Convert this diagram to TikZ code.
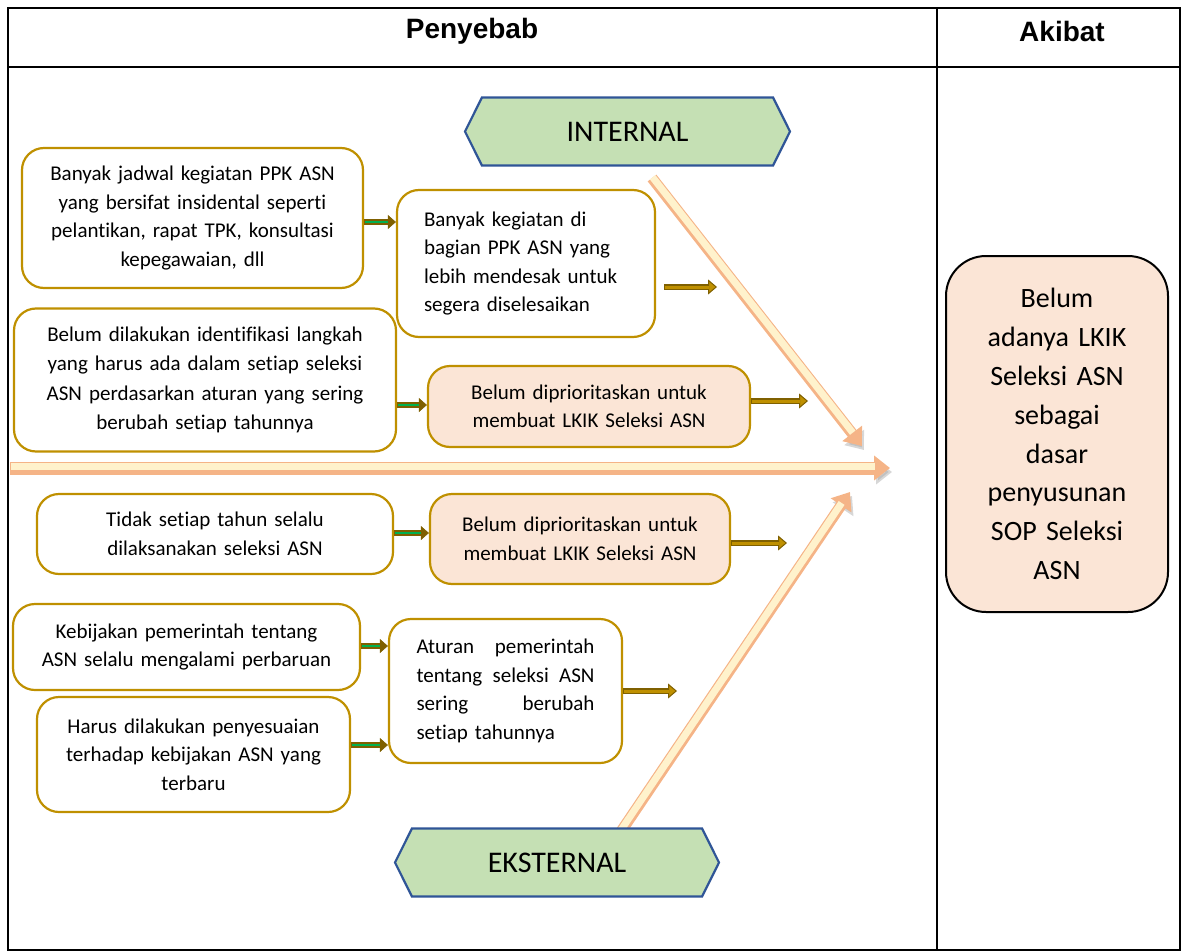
\documentclass[tikz,border=0pt]{standalone}
\usepackage{fontspec}
\setmainfont{Carlito}[Ligatures=CommonOff]
\newfontfamily\headfont{Liberation Sans}
\usetikzlibrary{positioning,arrows.meta,shapes.symbols}

\definecolor{goldline}{RGB}{191,144,0}
\definecolor{peach}{RGB}{251,229,214}
\definecolor{hexfill}{RGB}{197,224,180}
\definecolor{hexline}{RGB}{47,85,151}
\definecolor{darkbrown}{RGB}{127,96,0}
\definecolor{goldfill}{RGB}{191,144,0}
\definecolor{leafgreen}{RGB}{0,176,80}
\definecolor{spinedark}{RGB}{245,180,135}
\definecolor{spinelight}{RGB}{255,242,204}

\tikzset{
  cause/.style={draw=goldline,line width=2.2pt,rounded corners=22pt,fill=white,
    font=\fontsize{21}{28.5}\selectfont,align=center,inner sep=0pt},
  causepeach/.style={cause,fill=peach},
  side/.style={draw=hexline,fill=hexfill,line width=2.2pt,shape=signal,
    signal to=west and east,signal pointer angle=127,minimum width=325pt,
    minimum height=68pt,inner sep=0pt,font=\fontsize{30}{36}\selectfont},
  feedgreen/.style={line width=6pt,draw=darkbrown,
    -{Triangle[length=8pt,width=14pt,line width=0.5pt]},
    postaction={draw=leafgreen,line width=2pt,-,shorten >=8pt,shorten <=1pt}},
  feedgold/.style={line width=6pt,draw=darkbrown,
    -{Triangle[length=9pt,width=15pt,line width=1pt,fill=goldfill]},
    postaction={draw=goldfill,line width=3pt,-,shorten >=8pt,shorten <=1pt}},
  spine/.style={line width=13pt,draw=spinedark,
    -{Triangle[length=16pt,width=24pt]},
    preaction={draw=black!35,opacity=.45,transform canvas={xshift=2pt,yshift=-4pt}},
    postaction={draw=spinelight,line width=7pt,-,shorten >=15pt,shorten <=1pt,
      transform canvas={yshift=1.5pt}}}
}

\begin{document}
\begin{tikzpicture}[x=1pt,y=-1pt]
\useasboundingbox (0,0) rectangle (1182,952);

% table
\draw[line width=2pt] (8,8) rectangle (1180,950) (8,67) -- (1180,67) (937,8) -- (937,950);
\node[font=\headfont\bfseries\fontsize{28}{32}\selectfont] (head1) at (472,31) {Penyebab};
\node[font=\headfont\bfseries\fontsize{28}{32}\selectfont] (head2) at (1062,31) {Akibat};

% spines
\coordinate (m1) at (10,468);
\coordinate (m2) at (890,468);
\coordinate (u1) at (652,178);
\coordinate (u2) at (862,446);
\coordinate (l1) at (620,833);
\coordinate (l2) at (850,492);
\draw[spine] (m1) -- (m2);
\draw[spine,line width=11pt] (u1) -- (u2);
\draw[spine,line width=11pt] (l1) -- (l2);

% internal and external
\node[side] (internal) at (627.5,131.5) {INTERNAL};
\node[side,minimum width=324pt] (external) at (557,862.5) {EKSTERNAL};

% causes, internal side
\node[cause,minimum width=341pt,minimum height=140pt,text width=320pt] (A1) at (192.5,218)
  {Banyak jadwal kegiatan PPK ASN\\ yang bersifat insidental seperti\\ pelantikan, rapat TPK, konsultasi\\ kepegawaian, dll};
\node[cause,minimum width=258pt,minimum height=147pt,text width=204pt,align=left] (A2) at (526,263.5)
  {Banyak kegiatan di\\ bagian PPK ASN yang\\ lebih mendesak untuk\\ segera diselesaikan};
\node[cause,minimum width=382pt,minimum height=143pt,text width=360pt,
  font=\fontsize{21}{29.5}\selectfont] (A3) at (205,380)
  {Belum dilakukan identifikasi langkah\\ yang harus ada dalam setiap seleksi\\ ASN perdasarkan aturan yang sering\\ berubah setiap tahunnya};
\node[causepeach,minimum width=322pt,minimum height=81pt,text width=300pt] (A4) at (589,406.5)
  {Belum diprioritaskan untuk\\ membuat LKIK Seleksi ASN};

% causes, external side
\node[cause,minimum width=356pt,minimum height=80pt,text width=330pt] (B1) at (215,534)
  {Tidak setiap tahun selalu\\ dilaksanakan seleksi ASN};
\node[causepeach,minimum width=300pt,minimum height=90pt,text width=280pt] (B2) at (580,539)
  {Belum diprioritaskan untuk\\ membuat LKIK Seleksi ASN};
\node[cause,minimum width=347pt,minimum height=86pt,text width=330pt] (B3) at (186.5,647)
  {Kebijakan pemerintah tentang\\ ASN selalu mengalami perbaruan};
\node[cause,minimum width=313pt,minimum height=115pt,text width=290pt] (B4) at (193.5,754.5)
  {Harus dilakukan penyesuaian\\ terhadap kebijakan ASN yang\\ terbaru};
\node[cause,minimum width=233pt,minimum height=144pt,text width=178pt,align=left] (B5) at (505.5,691)
  {Aturan\hfill pemerintah\\ tentang\hfill seleksi\hfill ASN\\ sering\hfill berubah\\ setiap tahunnya};

% effect
\node[draw=black,line width=2pt,fill=peach,rounded corners=40pt,minimum width=222pt,
  minimum height=356pt,text width=200pt,align=center,inner sep=0pt,
  font=\fontsize{28}{38.8}\selectfont] (R) at (1057,434)
  {Belum\\ adanya LKIK\\ Seleksi ASN\\ sebagai\\ dasar\\ penyusunan\\ SOP Seleksi\\ ASN};

% small arrows
\coordinate (t1) at (717,287);
\coordinate (t2) at (808,401);
\coordinate (t3) at (787,543);
\coordinate (t4) at (677,691);
\draw[feedgreen] (A1.east |- 0,222) -- (A2.west |- 0,222);
\draw[feedgreen] (A3.east |- 0,405) -- (A4.west |- 0,405);
\draw[feedgreen] (B1.east |- 0,533) -- (B2.west |- 0,533);
\draw[feedgreen] (B3.east |- 0,646) -- (B5.west |- 0,646);
\draw[feedgreen] (B4.east |- 0,745) -- (B5.west |- 0,745);
\draw[feedgold] ([xshift=8pt]A2.east |- t1) -- (t1);
\draw[feedgold] (A4.east |- t2) -- (t2);
\draw[feedgold] (B2.east |- t3) -- (t3);
\draw[feedgold] (B5.east |- t4) -- (t4);

\end{tikzpicture}
\end{document}
